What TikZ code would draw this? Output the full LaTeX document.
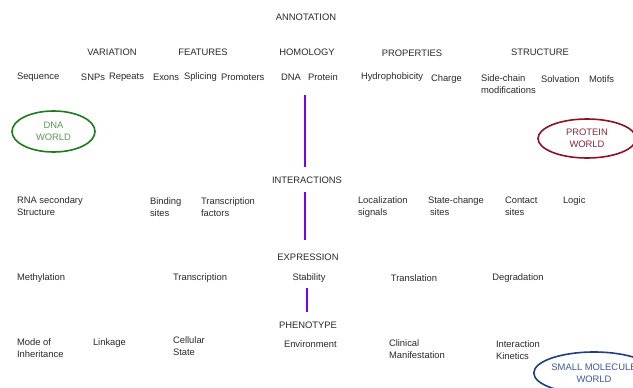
\documentclass[tikz,border=0pt]{standalone}
\usepackage{fontspec}
\setmainfont{Liberation Sans}
\usetikzlibrary{shapes.geometric}
\definecolor{txt}{HTML}{2A2A2A}
\definecolor{dnagreen}{HTML}{1E7A1E}
\definecolor{dnatext}{HTML}{5A9A50}
\definecolor{protred}{HTML}{8A1424}
\definecolor{protext}{HTML}{8A2A3A}
\definecolor{smblue}{HTML}{1F3F7F}
\definecolor{smtext}{HTML}{3A5A9A}
\definecolor{vline}{HTML}{7A00F0}
\begin{document}
\begin{tikzpicture}[x=1pt,y=-1pt,
  every node/.style={inner sep=0pt,outer sep=0pt,text=txt,font=\fontsize{9.4}{12}\selectfont},
  lbl/.style={anchor=center},
  lw/.style={anchor=west},
  ml/.style={anchor=north west,align=left},
  world/.style={ellipse,draw,line width=1.6pt,align=center,inner sep=0pt},
  conn/.style={draw=vline,line width=2.6pt}]
\path[fill=white] (0,0) rectangle (633,388);
\useasboundingbox (0,0) rectangle (633,388);
\begin{scope}
\clip (0,0) rectangle (633,388);
% headings
\node[lbl] (annot) at (306,17) {ANNOTATION};
\node[lbl] (variation) at (112,52) {VARIATION};
\node[lbl] (features) at (203,52) {FEATURES};
\node[lbl] (homology) at (307,52) {HOMOLOGY};
\node[lbl] (properties) at (412,53) {PROPERTIES};
\node[lbl] (structure) at (540,52) {STRUCTURE};
% row 1
\node[lw] (sequence) at (17,77) {Sequence};
\node[lw] (snps) at (81,77) {SNPs};
\node[lw] (repeats) at (109,77) {Repeats};
\node[lw] (exons) at (153,77) {Exons};
\node[lw] (splicing) at (184,77) {Splicing};
\node[lw] (promoters) at (221,77) {Promoters};
\node[lw] (dna) at (281,77) {DNA};
\node[lw] (protein) at (308,77) {Protein};
\node[lw] (hydro) at (361,77) {Hydrophobicity};
\node[lw] (charge) at (431,79) {Charge};
\node[ml] (sidechain) at (481,75) {Side-chain\\modifications};
\node[lw] (solvation) at (541,79) {Solvation};
\node[lw] (motifs) at (589,79) {Motifs};
% worlds
\node[world,draw=dnagreen,text=dnatext,minimum width=83pt,minimum height=41pt] (dnaworld) at (53.5,131.5) {DNA\\WORLD};
\node[world,draw=protred,text=protext,minimum width=98pt,minimum height=39pt] (protworld) at (587,138.5) {PROTEIN\\WORLD};
\node[world,draw=smblue,text=smtext,minimum width=98pt,minimum height=42pt] (smworld) at (594,373) {SMALL MOLECULE\\WORLD};
% interactions
\node[lbl] (interactions) at (307,180) {INTERACTIONS};
\node[ml] (rna) at (17,197) {RNA secondary\\Structure};
\node[ml] (binding) at (150,198) {Binding\\sites};
\node[ml] (tfactors) at (201,198) {Transcription\\factors};
\node[ml] (local) at (358,197) {Localization\\signals};
\node[ml] (statechange) at (428,197) {State-change\\\hspace*{2pt}sites};
\node[ml] (contact) at (505,197) {Contact\\sites};
\node[lw] (logic) at (563,201) {Logic};
% expression
\node[lbl] (expression) at (308,257) {EXPRESSION};
\node[lw] (methyl) at (17,278) {Methylation};
\node[lbl] (transcription) at (200,278) {Transcription};
\node[lbl] (stability) at (309,278) {Stability};
\node[lbl] (translation) at (414,278) {Translation};
\node[lbl] (degradation) at (518,278) {Degradation};
% phenotype
\node[lbl] (phenotype) at (308,325) {PHENOTYPE};
\node[ml] (mode) at (17,339) {Mode of\\Inheritance};
\node[lw] (linkage) at (93,343) {Linkage};
\node[ml] (cellular) at (173,337) {Cellular\\State};
\node[lw] (environment) at (284,344) {Environment};
\node[ml] (clinical) at (389,340) {Clinical\\Manifestation};
\node[ml] (interaction) at (496,341) {Interaction\\Kinetics};
% connectors
\coordinate (l1top) at (305,95);
\coordinate (l1bot) at (305,167);
\coordinate (l2top) at (305,192);
\coordinate (l2bot) at (305,240);
\coordinate (l3top) at (307,288);
\coordinate (l3bot) at (307,312);
\draw[conn] (l1top) -- (l1bot);
\draw[conn] (l2top) -- (l2bot);
\draw[conn] (l3top) -- (l3bot);
\end{scope}
\end{tikzpicture}
\end{document}
